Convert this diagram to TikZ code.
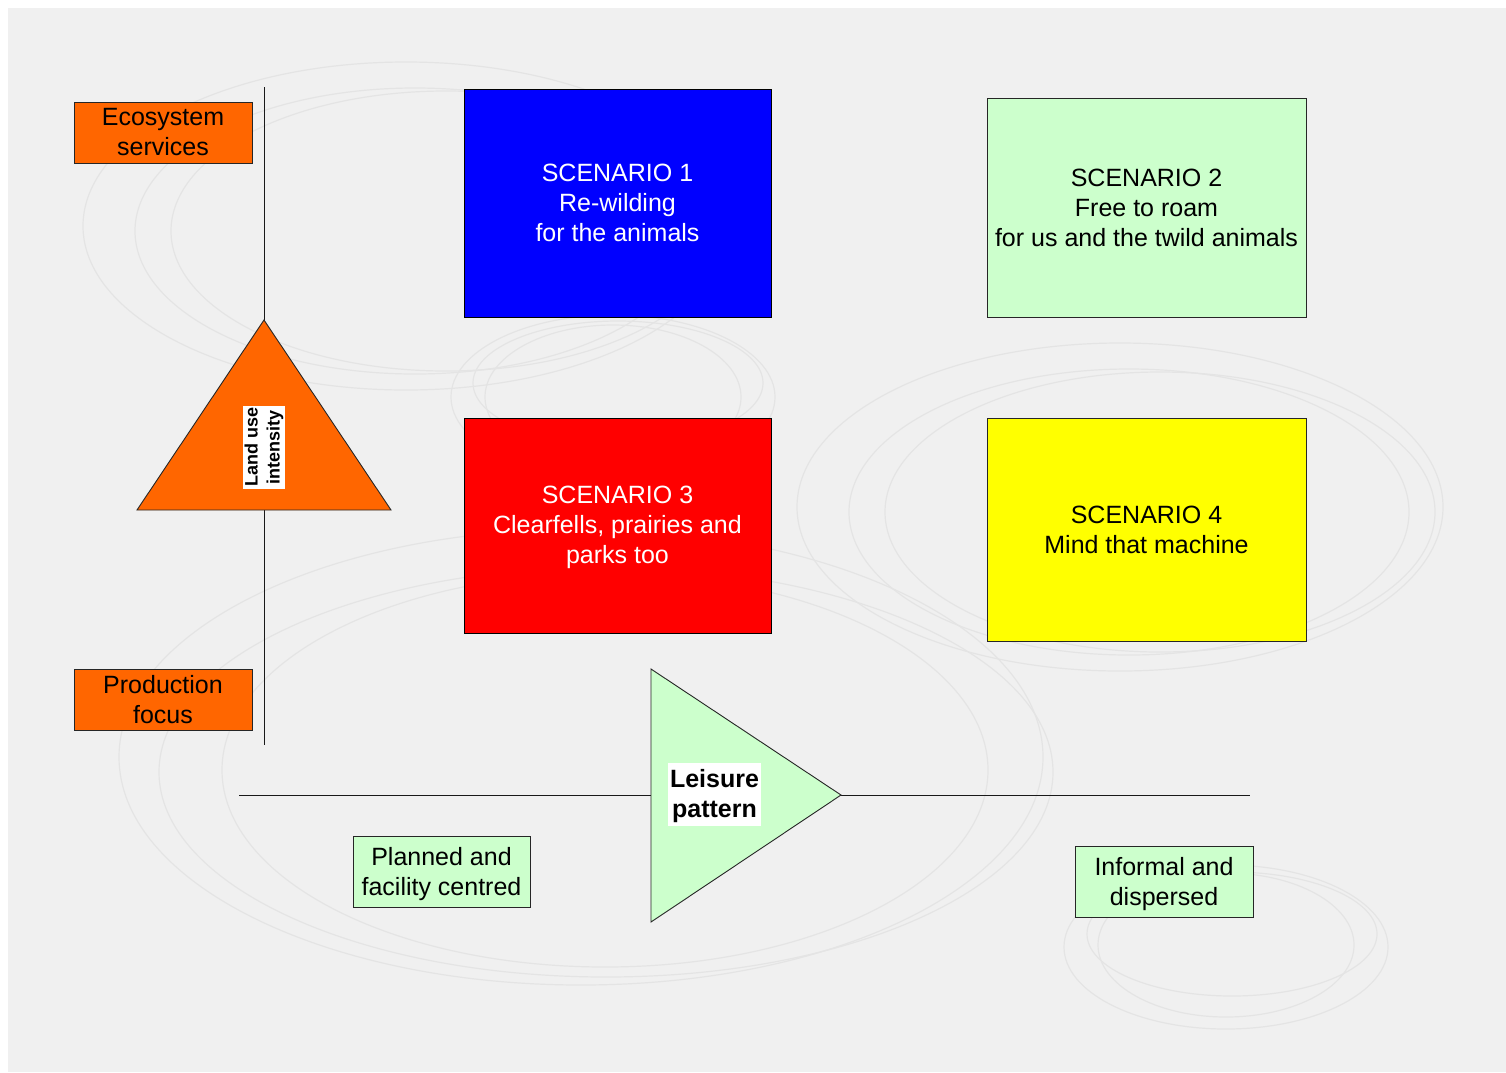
\documentclass[tikz,border=0pt]{standalone}
\usepackage{fontspec}
\setmainfont{Liberation Sans}
\definecolor{bggray}{HTML}{F0F0F0}
\definecolor{ellgray}{HTML}{E4E4E4}
\definecolor{orangefill}{HTML}{FF6600}
\definecolor{greenfill}{HTML}{CCFFCC}
\definecolor{bluefill}{HTML}{0000FF}
\definecolor{redfill}{HTML}{FF0000}
\definecolor{yellowfill}{HTML}{FFFF00}
\begin{document}
\begin{tikzpicture}[x=1pt,y=-1pt,
  ell/.style={draw=ellgray,line width=1.2pt},
  box/.style={draw=black!85,line width=0.9pt,inner sep=0pt,align=center,
    font=\fontsize{25}{30}\selectfont},
  boxtext/.style={inner sep=0pt,align=center,font=\fontsize{25}{30}\selectfont},
  axisline/.style={draw=black!90,line width=1pt},
  tri/.style={draw=black!85,line width=0.9pt},
  whitelabel/.style={fill=white,inner sep=2pt,align=center}
]
\useasboundingbox (0,0) rectangle (1506,1072);
\fill[white] (0,0) rectangle (1506,1072);
\fill[bggray] (8,8) rectangle (1506,1072);

% background ellipses
\draw[ell] (406,226) ellipse [x radius=323pt, y radius=164pt];
\draw[ell] (415,231) ellipse [x radius=280pt, y radius=143pt];
\draw[ell] (446,231) ellipse [x radius=275pt, y radius=140pt];
\draw[ell] (1120,507) ellipse [x radius=323pt, y radius=164pt];
\draw[ell] (1129,512) ellipse [x radius=280pt, y radius=143pt];
\draw[ell] (1160,512) ellipse [x radius=275pt, y radius=140pt];
\draw[ell] (613,397) ellipse [x radius=162pt, y radius=82pt];
\draw[ell] (618,383) ellipse [x radius=145pt, y radius=62pt];
\draw[ell] (613,397) ellipse [x radius=128pt, y radius=72pt];
\draw[ell] (1226,947) ellipse [x radius=162pt, y radius=82pt];
\draw[ell] (1232,934) ellipse [x radius=145pt, y radius=62pt];
\draw[ell] (1226,945) ellipse [x radius=128pt, y radius=72pt];
\draw[ell] (581,757) ellipse [x radius=462pt, y radius=228pt];
\draw[ell] (606,772) ellipse [x radius=447pt, y radius=205pt];
\draw[ell] (605,770) ellipse [x radius=383pt, y radius=197pt];

% axes
\coordinate (vtop) at (264,87);
\coordinate (vbot) at (264,745);
\coordinate (hleft) at (239,795);
\coordinate (hright) at (1250,795);
\draw[axisline] (vtop) -- (vbot);
\draw[axisline] (hleft) -- (hright);

% land use triangle
\coordinate (lapex) at (264,320);
\coordinate (lbr) at (391,510);
\coordinate (lbl) at (137,510);
\draw[tri,fill=orangefill] (lapex) -- (lbr) -- (lbl) -- cycle;
\node[whitelabel,rotate=90,font=\bfseries\fontsize{18}{22}\selectfont] (landuse) at (264,447) {Land use\\intensity};

% leisure triangle
\coordinate (ltop) at (651,669);
\coordinate (ltip) at (841,795);
\coordinate (lbot) at (651,922);
\draw[tri,fill=greenfill] (ltop) -- (ltip) -- (lbot) -- cycle;
\node[fill=white,inner sep=0pt,minimum width=93pt,minimum height=63pt] (leisurebg) at (714.5,794.5) {};
\node[boxtext,font=\bfseries\fontsize{25}{30}\selectfont] (leisure) at ([yshift=-2pt]leisurebg.center) {Leisure\\pattern};

% axis end boxes
\node[box,fill=orangefill,minimum width=178pt,minimum height=61pt] (eco) at (163,132.5) {Ecosystem\\services};
\node[box,fill=orangefill,minimum width=178pt,minimum height=61pt] (prod) at (163,699.5) {Production\\focus};
\node[box,fill=greenfill,minimum width=177pt,minimum height=71pt] (planned) at (441.5,871.5) {};
\node[boxtext] (plannedtext) at ([yshift=-2.5pt]planned.center) {Planned and\\facility centred};
\node[box,fill=greenfill,minimum width=178pt,minimum height=71pt] (informal) at (1164,881.5) {};
\node[boxtext] (informaltext) at ([yshift=-2.5pt]informal.center) {Informal and\\dispersed};

% scenarios
\node[box,draw=black,fill=bluefill,text=white,minimum width=307pt,minimum height=228pt] (s1) at (617.5,203) {SCENARIO 1\\Re-wilding\\for the animals};
\node[box,fill=greenfill,minimum width=319pt,minimum height=219pt] (s2) at (1146.5,207.5) {SCENARIO 2\\Free to roam\\for us and the twild animals};
\node[box,draw=black,fill=redfill,minimum width=307pt,minimum height=215pt] (s3) at (617.5,525.5) {};
\node[boxtext,text=white] (s3text) at ([yshift=-2pt]s3.center) {SCENARIO 3\\Clearfells, prairies and\\parks too};
\node[box,fill=yellowfill,minimum width=319pt,minimum height=223pt] (s4) at (1146.5,529.5) {SCENARIO 4\\Mind that machine};
\end{tikzpicture}
\end{document}
